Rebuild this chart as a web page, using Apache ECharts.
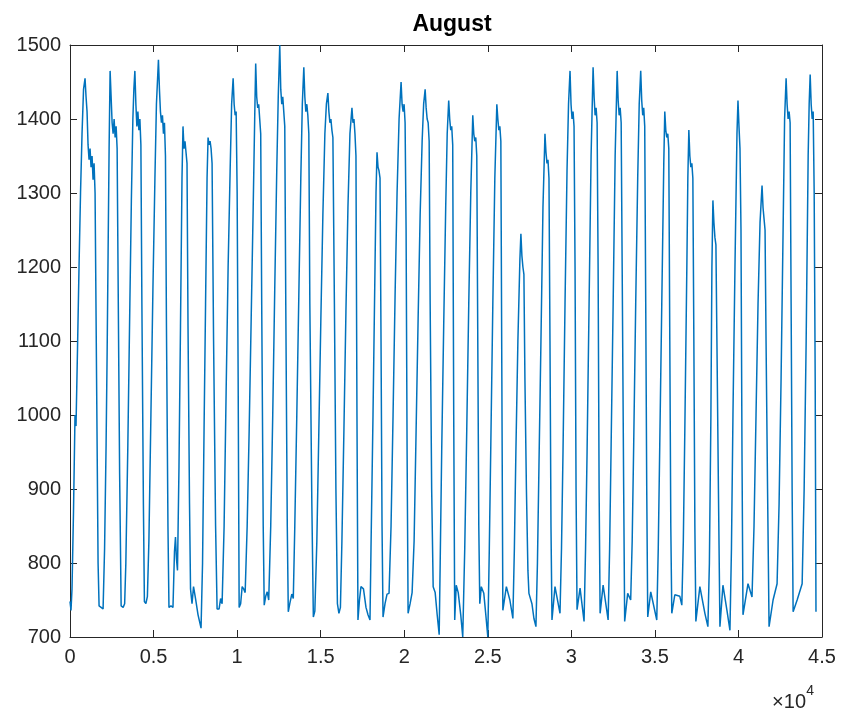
<!DOCTYPE html>
<html>
<head>
<meta charset="utf-8">
<script src="https://cdn.jsdelivr.net/npm/echarts@6/dist/echarts.min.js"></script>
<style>
html,body{margin:0;padding:0;background:#fff;}
#chart{width:842px;height:713px;}
</style>
</head>
<body>
<div id="chart"></div>
<script>
// Hours since the start of the month (1-minute samples: x = hour * 60)
var hours = [
0,1,2,3.5,5,6,7.5,9,10.5,12,13.5,15,16,17,18,19,20,21,22,23,24,25,26.5,28,29,31,33,
34.5,36,37,38,39,40,41,42,43,44,45,46,47,48,49.5,51,53,54.5,
55.7,57.7,59.7,61.2,62.7,63.7,64.7,65.7,66.7,67.7,68.7,69.7,70.7,71.7,73.2,74.2,75.7,77.2,
78.7,80.7,82.7,84.7,86.2,88.2,89.2,90.2,91.2,92.2,93.2,94.2,95.2,96.2,97.7,98.7,100.7,102.7,104.2,105.2,106.2,107.2,
108.7,110.2,111.7,112.7,113.7,114.7,115.7,116.7,117.7,119.2,120.2,121.7,123.2,125.2,127.7,130.7,
132.2,133.7,135.2,136.7,137.7,138.7,139.7,140.7,141.7,143.2,145.2,146.7,148.7,150.2,151.7,
153.7,155.7,157.7,159.7,161.2,162.7,163.7,164.7,165.7,166.7,167.7,168.7,170.2,171.7,173.2,174.7,
176.7,178.7,180.7,182.7,184.2,185.2,186.2,187.2,188.2,189.2,190.2,191.2,192.7,193.7,195.2,196.7,198.2,
200.2,202.2,204.2,206.2,207.7,209.2,210.2,211.2,212.2,213.2,214.2,215.2,216.7,217.7,219.2,221.2,222.7,
224.2,226.2,228.2,230.2,231.7,233.2,234.2,235.2,236.2,237.2,238.2,239.2,241.2,242.7,244.2,
246.2,248.2,250.2,252.2,254.2,255.7,257.2,258.2,259.2,260.2,261.2,262.2,263.7,265.2,266.7,268.2,269.7,
271.2,273.2,275.2,277.2,279.2,281.2,282.2,283.2,284.2,285.2,286.2,287.2,288.7,290.2,292.7,295.2,297.2,299.2,
300.2,302.2,304.2,305.2,306.2,307.2,308.2,309.2,310.2,311.2,312.2,314.2,316.2,318.2,
320.2,322.2,324.2,326.2,328.2,330.2,331.2,332.2,333.2,334.2,335.2,336.2,337.2,339.2,341.2,
343.2,345.2,347.2,349.2,351.2,352.7,354.2,355.2,356.2,357.2,358.2,359.2,360.7,362.2,364.2,366.2,368.2,
369.2,370.7,372.7,374.7,376.2,377.7,378.7,379.7,380.7,381.7,382.7,383.7,385.2,387.2,389.7,391.7,
393.7,395.7,397.7,399.7,401.7,402.7,403.7,404.7,405.7,406.7,407.7,408.7,410.2,412.7,414.7,416.7,
418.2,419.7,421.7,423.7,425.7,426.7,427.7,428.7,429.7,430.7,431.7,435.2,438.7,441.7,
443.2,444.7,446.7,448.7,449.7,450.7,451.7,452.7,453.7,455.2,456.7,457.7,460.7,462.7,464.7,
466.2,467.7,469.7,471.7,473.7,474.7,475.7,476.7,477.7,478.7,479.7,480.7,483.7,488.7,
490.2,491.7,493.7,495.7,497.2,498.7,499.7,500.7,501.7,502.7,503.7,504.7,505.7,508.7,512.7,
514.2,515.7,517.7,519.7,521.7,522.7,523.7,524.7,525.7,526.7,527.7,528.7,531.7,536.7,
538.2,539.7,541.7,543.7,545.7,546.7,547.7,548.7,549.7,550.7,552.2,553.2,556.2,559.2,
560.7,562.2,564.2,566.2,567.7,569.2,570.2,571.2,572.2,573.2,574.2,575.2,576.2,579.2,585.2,
586.7,588.2,590.2,592.2,593.2,594.2,595.2,596.2,597.2,598.2,599.2,600.2,603.2,608.2,610.2,
611.7,613.2,615.2,616.2,617.2,618.2,619.2,620.2,621.2,622.2,623.2,624.2,628.2,633.2,636.2,
637.7,639.2,640.2,641.2,642.2,643.2,644.2,645.2,646.7,648.2,651.2,655.2,658.2,
659.7,661.2,663.2,665.2,666.2,667.2,668.2,669.2,670.2,671.2,676.2,680.2,
682.2,684.2,686.2,688.2,690.2,691.2,692.2,693.2,694.2,695.7,697.2,701.2,705.2,
707.2,709.2,711.2,712.7,714.2,715.2,716.2,717.2,718.2,719.2,720.2,721.2,725.2,730.2,
732.2,734.2,736.2,737.2,738.2,739.2,740.2,741.2,742.2,743.2,744
];
var load = [
748,736,765,870,1000,985,1090,1200,1300,1380,1440,1455,1430,1410,1365,1345,1360,1335,1350,1318,1340,1300,1050,800,742,740,738,
820,960,1080,1220,1360,1465,1430,1395,1380,1400,1375,1390,1360,1180,920,742,740,745,
800,960,1150,1290,1400,1440,1465,1420,1390,1410,1385,1400,1365,1150,880,748,745,755,
830,1000,1170,1320,1420,1480,1440,1410,1395,1405,1380,1395,1350,1120,850,740,742,740,815,835,805,790,
930,1120,1320,1390,1360,1370,1355,1340,1120,880,765,745,768,752,730,712,
800,980,1150,1320,1375,1365,1370,1360,1340,1100,850,738,738,752,745,
850,1030,1200,1330,1420,1455,1420,1405,1410,1300,1050,740,745,768,765,760,
850,980,1130,1280,1400,1475,1430,1415,1420,1400,1380,1150,850,743,755,761,750,
850,1000,1170,1330,1430,1500,1440,1420,1430,1410,1390,1150,850,734,745,758,752,
850,1000,1160,1320,1420,1470,1430,1410,1420,1405,1380,1150,880,727,735,
830,980,1130,1270,1380,1420,1435,1410,1395,1400,1385,1375,1150,900,745,732,740,
830,980,1140,1280,1380,1415,1395,1400,1380,1350,1000,723,750,768,765,740,730,723,
820,1000,1200,1300,1355,1335,1330,1320,1100,850,727,745,758,759,
850,1000,1160,1300,1400,1450,1420,1410,1420,1395,1250,950,732,745,760,
830,980,1130,1270,1370,1420,1440,1415,1400,1395,1370,1150,900,768,760,730,703,
800,950,1120,1280,1380,1425,1400,1385,1390,1365,1000,723,770,760,730,700,
820,980,1150,1300,1405,1380,1370,1375,1350,1100,850,745,768,759,730,700,
820,960,1150,1320,1420,1400,1385,1390,1370,1050,736,768,750,725,
820,950,1100,1210,1245,1215,1200,1190,1050,900,790,759,745,725,714,
800,930,1100,1280,1380,1355,1340,1345,1320,1100,850,723,768,732,
820,950,1150,1330,1420,1465,1420,1400,1410,1390,1200,900,737,766,721,
820,950,1150,1350,1470,1430,1405,1415,1395,1200,900,732,770,723,
820,960,1150,1350,1465,1425,1405,1415,1395,1200,900,721,759,750,
830,960,1150,1320,1420,1465,1425,1405,1415,1390,1150,900,727,761,723,
820,960,1150,1340,1410,1385,1375,1380,1360,1100,850,732,757,755,743,
830,980,1200,1320,1385,1350,1335,1340,1320,1100,850,721,768,732,714,
800,1000,1200,1290,1260,1240,1230,1100,900,714,770,736,709,
820,1000,1200,1380,1425,1390,1360,1250,950,730,772,754,
850,1000,1150,1260,1310,1280,1265,1250,1100,900,714,750,772,
880,1050,1250,1400,1455,1420,1400,1410,1395,1150,900,734,750,772,
900,1100,1350,1420,1460,1420,1400,1410,1300,1050,734
];
var xTicks = ['0','0.5','1','1.5','2','2.5','3','3.5','4','4.5'];
var chartTitle = 'August';

var points = hours.map(function (h, i) { return [h * 60, load[i]]; });

var chart = echarts.init(document.getElementById('chart'), null, {renderer: 'canvas'});
var axisColor = '#262626';
var font = 'Liberation Sans, Arial, Helvetica, sans-serif';
function xAxisCfg(pos, showLabel) {
  return {
    type: 'value', position: pos, min: 0, max: 45000, interval: 5000,
    axisLine: {show: true, onZero: false, lineStyle: {color: axisColor, width: 1}},
    axisTick: {show: true, inside: true, length: 7, lineStyle: {color: axisColor}},
    axisLabel: {show: showLabel, color: axisColor, fontSize: 20, fontFamily: font, margin: 10,
      formatter: function (v) { return xTicks[Math.round(v / 5000)]; }},
    splitLine: {show: false}
  };
}
function yAxisCfg(pos, showLabel) {
  return {
    type: 'value', position: pos, min: 700, max: 1500, interval: 100,
    axisLine: {show: true, onZero: false, lineStyle: {color: axisColor, width: 1}},
    axisTick: {show: true, inside: true, length: 7, lineStyle: {color: axisColor}},
    axisLabel: {show: showLabel, color: axisColor, fontSize: 20, fontFamily: font, margin: 9,
      formatter: function (v) { return String(v); }},
    splitLine: {show: false}
  };
}
chart.setOption({
  animation: false,
  backgroundColor: '#ffffff',
  title: {text: chartTitle, left: 447, top: 8, textAlign: 'center',
    textStyle: {fontSize: 23, fontWeight: 'bold', color: '#000', fontFamily: font}},
  grid: {left: 70, right: 20, top: 45, bottom: 76, containLabel: false},
  xAxis: [xAxisCfg('bottom', true), xAxisCfg('top', false)],
  yAxis: [yAxisCfg('left', true), yAxisCfg('right', false)],
  graphic: [
    {type: 'text', right: 36, top: 692, style: {text: '×10', fontSize: 20, fontFamily: font, fill: axisColor}},
    {type: 'text', right: 28, top: 684, style: {text: '4', fontSize: 14, fontFamily: font, fill: axisColor}}
  ],
  series: [{
    type: 'line', xAxisIndex: 0, yAxisIndex: 0, data: points,
    showSymbol: false, symbol: 'none',
    lineStyle: {color: '#0072BD', width: 1.5},
    clip: true
  }]
});
</script>
</body>
</html>
